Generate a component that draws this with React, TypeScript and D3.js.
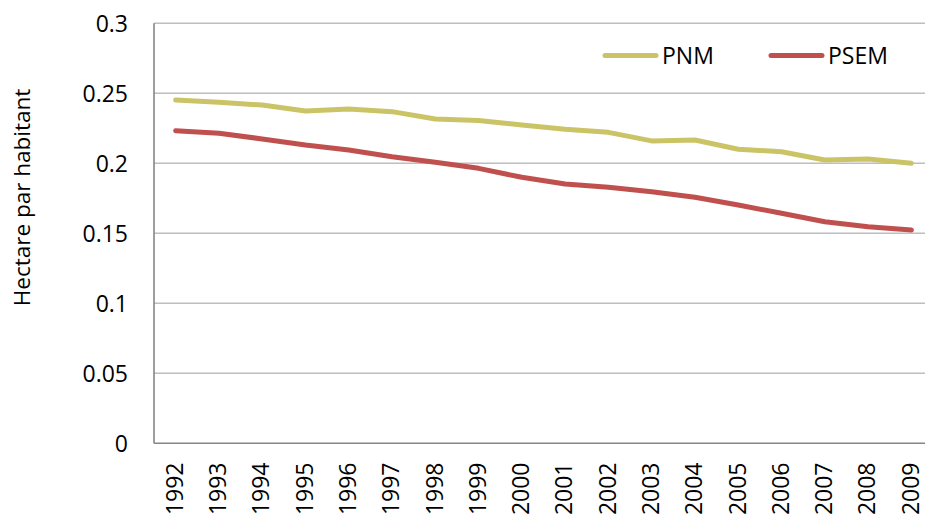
import React from "react";
import * as d3 from "d3";

const years = ["1992","1993","1994","1995","1996","1997","1998","1999","2000","2001","2002","2003","2004","2005","2006","2007","2008","2009"];
const pnm = [0.2452,0.2436,0.2416,0.2374,0.2388,0.2369,0.2316,0.2305,0.2274,0.2243,0.2221,0.2160,0.2166,0.2100,0.2083,0.2024,0.2031,0.2000];
const psem = [0.2233,0.2214,0.2174,0.2131,0.2095,0.2047,0.2007,0.1964,0.1900,0.1852,0.1829,0.1797,0.1757,0.1702,0.1643,0.1583,0.1547,0.1524];
const yTicks = [0, 0.05, 0.1, 0.15, 0.2, 0.25, 0.3];
const seriesNames = ["PNM", "PSEM"];
const colors = ["#CBC466", "#C0504D"];
const yTitle = "Hectare par habitant";

const W = 925, H = 515;
const left = 154, right = 933, top = 23.3, bottom = 443.3;
const FONT = "'Open Sans', Lato, sans-serif";

export default function App() {
  const x = d3.scaleBand<string>().domain(years).range([left, right]);
  const y = d3.scaleLinear().domain([0, 0.3]).range([bottom, top]);
  const cx = (d: string) => (x(d) as number) + x.bandwidth() / 2;
  const line = d3.line<number>().x((_, i) => cx(years[i])).y((v) => y(v));
  const data = [pnm, psem];
  const legendX = [603, 769];
  return (
    <svg width={W} height={H} style={{ position: "absolute", left: 0, top: 0, background: "#fff" }} fontFamily={FONT}>
      <rect x={0} y={0} width={W} height={H} fill="#fff" />
      {yTicks.filter((t) => t > 0).map((t) => (
        <line key={t} x1={left} x2={W} y1={y(t)} y2={y(t)} stroke="#BEBEBE" strokeWidth={1.4} />
      ))}
      <line x1={left} x2={left} y1={top} y2={bottom} stroke="#868686" strokeWidth={1.6} />
      <line x1={left} x2={W} y1={bottom} y2={bottom} stroke="#868686" strokeWidth={1.6} />
      {yTicks.map((t) => (
        <text key={t} x={128} y={y(t)} dy="0.36em" textAnchor="end" fontSize={23} fill="#000">
          {d3.format("~g")(t)}
        </text>
      ))}
      {years.map((yr) => (
        <text key={yr} transform={`translate(${cx(yr) - 1},462.5) rotate(-90)`} dy="0.36em" textAnchor="end" fontSize={23} fill="#000">
          {yr}
        </text>
      ))}
      <text transform={`translate(30,197.5) rotate(-90)`} textAnchor="middle" fontSize={22.5} fill="#000">
        {yTitle}
      </text>
      {data.map((s, i) => (
        <path key={i} d={line(s) || ""} fill="none" stroke={colors[i]} strokeWidth={5} strokeLinejoin="round" strokeLinecap="round" />
      ))}
      {seriesNames.map((n, i) => (
        <g key={n}>
          <line x1={legendX[i] + 2} x2={legendX[i] + 53} y1={55.5} y2={55.5} stroke={colors[i]} strokeWidth={5} strokeLinecap="round" />
          <text x={legendX[i] + 59} y={55.5} dy="0.36em" fontSize={23} fill="#000">{n}</text>
        </g>
      ))}
    </svg>
  );
}
